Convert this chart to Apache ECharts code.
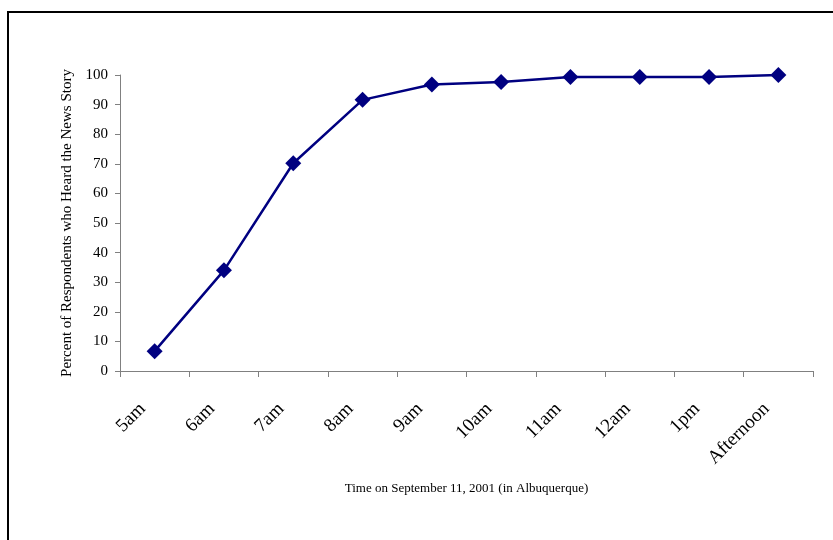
<!DOCTYPE html>
<html>
<head>
<meta charset="utf-8">
<script src="https://cdn.jsdelivr.net/npm/echarts@6/dist/echarts.min.js"></script>
<style>
  html, body { margin: 0; padding: 0; background: #fff; }
  #chart { width: 833px; height: 540px; }
</style>
</head>
<body>
<div id="chart"></div>
<script>
// Time of day on September 11, 2001 (Albuquerque)
const timeSlots = ['5am', '6am', '7am', '8am', '9am', '10am', '11am', '12am', '1pm', 'Afternoon'];
// Cumulative percent of respondents who had heard the news
const percentHeard = [6.7, 34, 70.2, 91.6, 96.8, 97.6, 99.3, 99.3, 99.3, 100];
const yTicks = { min: 0, max: 100, step: 10 };

const serif = '"Liberation Serif", "Times New Roman", serif';
const axisGray = '#808080';

const chart = echarts.init(document.getElementById('chart'), null, { renderer: 'canvas' });
chart.setOption({
  backgroundColor: '#ffffff',
  animation: false,
  graphic: [{
    type: 'rect',
    shape: { x: 8, y: 12, width: 900, height: 600 },
    style: { fill: 'none', stroke: '#000000', lineWidth: 2 },
    silent: true
  }],
  grid: { left: 120, right: 20, top: 75, bottom: 169 },
  xAxis: {
    type: 'category',
    data: timeSlots,
    boundaryGap: true,
    name: 'Time on September 11, 2001 (in Albuquerque)',
    nameLocation: 'middle',
    nameGap: 111,
    nameTextStyle: { fontFamily: serif, fontSize: 13, color: '#000' },
    axisLine: { lineStyle: { color: axisGray, width: 1 } },
    axisTick: { show: true, length: 6, inside: false, alignWithLabel: false, lineStyle: { color: axisGray } },
    axisLabel: {
      rotate: 45, margin: 23, padding: [0, 17, 0, 0],
      fontFamily: serif, fontSize: 19, color: '#000', interval: 0
    },
    splitLine: { show: false }
  },
  yAxis: {
    type: 'value',
    min: yTicks.min,
    max: yTicks.max,
    interval: yTicks.step,
    name: 'Percent of Respondents who Heard the News Story',
    nameLocation: 'middle',
    nameGap: 42,
    nameTextStyle: { fontFamily: serif, fontSize: 15, color: '#000' },
    axisLine: { show: true, lineStyle: { color: axisGray, width: 1 } },
    axisTick: { show: true, length: 5, lineStyle: { color: axisGray } },
    axisLabel: { margin: 12, fontFamily: serif, fontSize: 15, color: '#000' },
    splitLine: { show: false }
  },
  series: [{
    type: 'line',
    data: percentHeard,
    symbol: 'diamond',
    symbolSize: 16,
    lineStyle: { color: '#000080', width: 2.5 },
    itemStyle: { color: '#000080' },
    label: { show: false }
  }]
});
</script>
</body>
</html>
